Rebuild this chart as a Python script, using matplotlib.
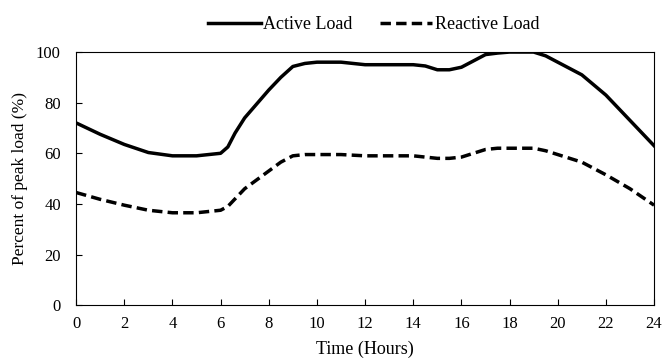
import matplotlib.pyplot as plt

hours = [0, 1, 2, 3, 4, 5, 6, 6.3, 6.6, 7, 7.5, 8, 8.5, 9, 9.5, 10, 11, 12, 13, 14, 14.5, 15, 15.5, 16, 16.5, 17, 17.5, 18, 19, 19.5, 20, 21, 22, 23, 24]
active = [72, 67.5, 63.5, 60.3, 59, 59, 60, 62.5, 68, 74, 79.5, 85, 90, 94.3, 95.5, 96, 96, 95, 95, 95, 94.5, 93, 93, 94, 96.5, 99, 99.6, 100, 100, 98.5, 96, 91, 83, 73, 63]
reactive = [44.5, 41.8, 39.5, 37.5, 36.5, 36.5, 37.5, 39, 42, 46, 49.5, 53, 56.5, 59, 59.5, 59.5, 59.5, 59, 59, 59, 58.5, 58, 58, 58.5, 60, 61.5, 62, 62, 62, 61, 59.5, 56.5, 51.5, 46, 39.5]

plt.rcParams['font.family'] = ['Liberation Serif', 'DejaVu Serif']

fig = plt.figure(figsize=(6.62, 3.59), dpi=100)
ax = fig.add_axes([0.115, 0.15, 0.873, 0.705])

ax.plot(hours, active, color='black', linewidth=2.5, label='Active Load')
ax.plot(hours, reactive, color='black', linewidth=2.5, dashes=(3, 1.5), label='Reactive Load')

ax.set_xlim(0, 24)
ax.set_ylim(0, 100)
ax.set_xticks(range(0, 25, 2))
ax.set_yticks(range(0, 101, 20))
ax.tick_params(direction='in', length=4, width=0.8, labelsize=12)
ax.tick_params(axis='x', pad=8)
ax.tick_params(axis='y', pad=11)
for s in ax.spines.values():
    s.set_linewidth(0.8)

ax.set_xlabel('Time (Hours)', fontsize=13, labelpad=6)
ax.set_ylabel('Percent of peak load (%)', fontsize=12.5, labelpad=6)

ax.legend(loc='lower center', bbox_to_anchor=(0.515, 1.01), ncol=2, frameon=False,
          handlelength=2.9, columnspacing=1.5, handletextpad=0.15, fontsize=13)

fig.savefig('out.png', dpi=100)
